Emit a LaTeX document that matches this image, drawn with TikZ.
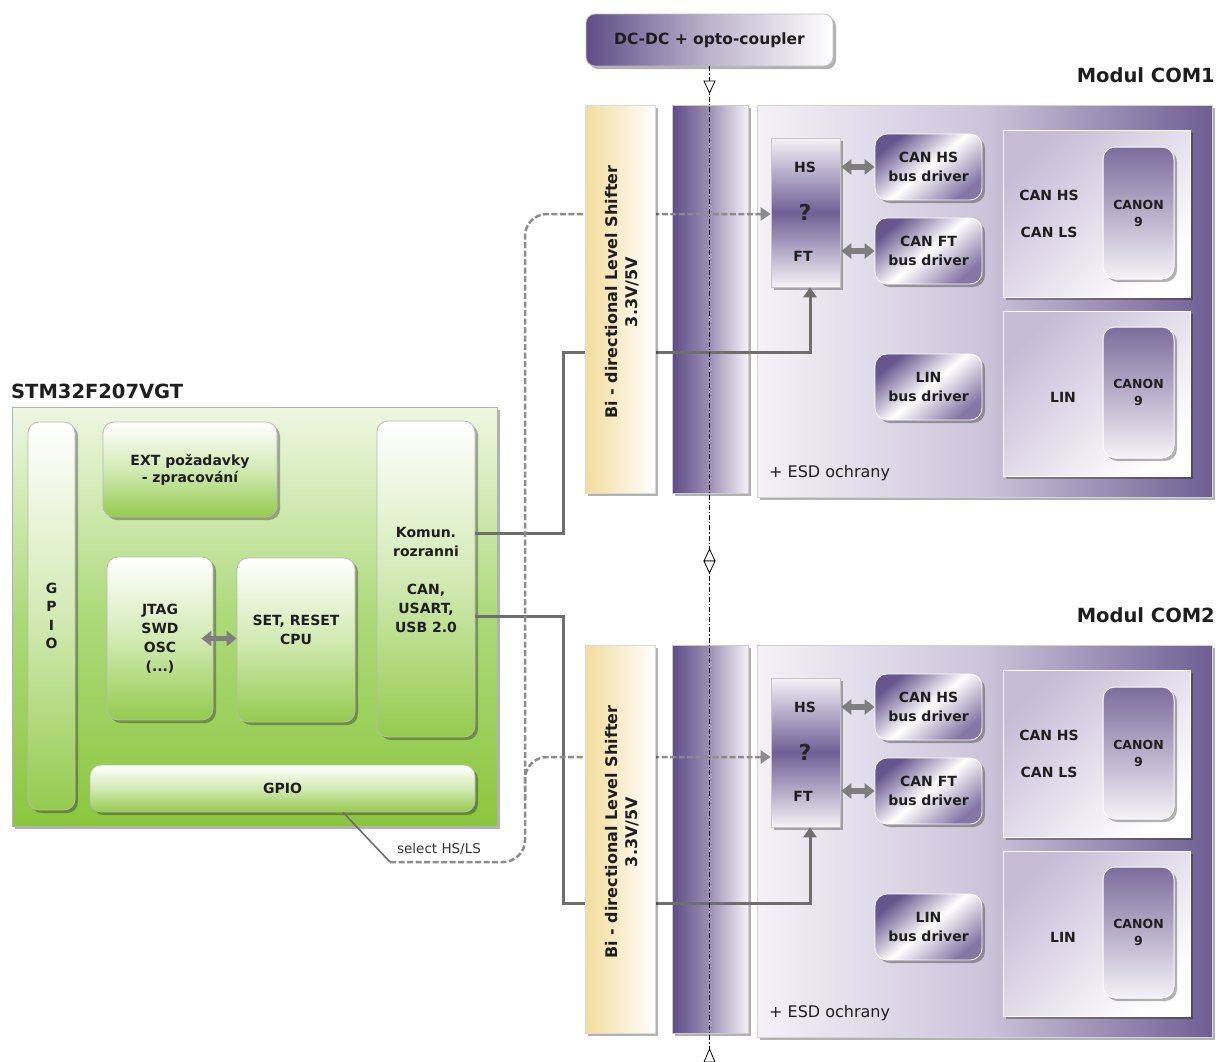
\documentclass[tikz,border=0pt]{standalone}
\usepackage{fontspec}
\setmainfont{DejaVu Sans}
\usetikzlibrary{arrows.meta,shadows,calc}
\definecolor{pdark}{HTML}{5E4D87}
\definecolor{pmid}{HTML}{8576A4}
\definecolor{plight}{HTML}{F4F2F7}
\definecolor{pmodmid}{HTML}{CCC4DA}
\definecolor{pcanon}{HTML}{7C6C9C}
\definecolor{pblk}{HTML}{C6BCD6}
\definecolor{pmux}{HTML}{6F5F95}
\definecolor{gdark}{HTML}{8CC63F}
\definecolor{gmid}{HTML}{ADD97A}
\definecolor{glight}{HTML}{EEF7E2}
\definecolor{ginmid}{HTML}{D2EAB4}
\definecolor{ylw}{HTML}{F4DC9C}
\definecolor{conngray}{HTML}{6E6E6E}
\definecolor{arrgray}{HTML}{7E7E7E}
\definecolor{dashgray}{HTML}{8C8C8C}
\definecolor{txtc}{HTML}{1E1E1E}
\newcommand\fBig{\fontsize{19.5}{22}\selectfont\bfseries}
\newcommand\fMid{\fontsize{14}{19}\selectfont\bfseries}
\newcommand\fExt{\fontsize{14}{17}\selectfont\bfseries}
\newcommand\fGp{\fontsize{14}{18.5}\selectfont\bfseries}
\newcommand\fEdc{\fontsize{15.5}{18}\selectfont\bfseries}
\newcommand\fCanon{\fontsize{12.5}{17}\selectfont\bfseries}
\newcommand\fShift{\fontsize{16}{20.5}\selectfont\bfseries}
\newcommand\fQ{\fontsize{22}{24}\selectfont\bfseries}
\newcommand\fSel{\fontsize{13.5}{16}\selectfont}
\newcommand\fEsd{\fontsize{16}{18}\selectfont}
\newcommand\placebox[7]{%
  \node[#2, minimum width={(#5)-(#3)}, minimum height={(#6)-(#4)}, inner sep=0pt] (#1) at ({((#3)+(#5))/2},{((#4)+(#6))/2}) {#7};}
\tikzset{
  shd/.style={drop shadow={shadow xshift=3pt,shadow yshift=-3pt,opacity=.3,fill=black}},
  txt/.style={text=txtc, align=center, inner sep=0pt},
  gouter/.style={rectangle, draw=gray!60, line width=.8pt, top color=glight, bottom color=gdark, middle color=gmid, shd},
  gbox/.style={rectangle, rounded corners=11pt, draw=gray!55, line width=.8pt, top color=white, bottom color=gdark!92!white, middle color=ginmid, shd, txt},
  dcdcbox/.style={rectangle, rounded corners=9pt, draw=gray!50, line width=.8pt, left color=pdark, right color=white, middle color=pmid!55!white, shd, txt},
  modbox/.style={rectangle, draw=gray!35, line width=.6pt, left color=plight, right color=pdark!90!white, middle color=pmodmid, shd},
  pbar/.style={rectangle, draw=gray!40, line width=.6pt, left color=pdark, right color=plight, middle color=pmid!80!white, shd},
  ybar/.style={rectangle, draw=gray!30, line width=.6pt, left color=ylw, right color=white, shd},
  muxbox/.style={rectangle, draw=gray!45, line width=.6pt, top color=plight, bottom color=plight, middle color=pmux, shd},
  drv/.style={rectangle, rounded corners=12pt, draw=white, line width=.8pt, top color=pdark!95!white, bottom color=pmid, middle color=white, shading angle=40, shd, txt},
  blk/.style={rectangle, draw=white, line width=1pt, top color=pblk, bottom color=white, shading angle=45, shd},
  canon/.style={rectangle, rounded corners=12pt, draw=white, line width=1pt, top color=pcanon, bottom color=plight, shd, txt},
  conn/.style={draw=conngray, line width=3pt},
  dbl/.style={draw=arrgray, line width=5.5pt, {Triangle[length=10pt,width=15pt]}-{Triangle[length=10pt,width=15pt]}},
  dsh/.style={draw=dashgray, line width=2.5pt, dash pattern=on 6pt off 2.5pt, rounded corners=22pt},
  ddot/.style={draw=black, line width=1.1pt, dash pattern=on 5pt off 2pt on 1.2pt off 2pt},
  mk/.style={draw=black, fill=white, line width=.8pt, line join=miter},
}
\begin{document}
\begin{tikzpicture}[x=1pt,y=-1pt]
\useasboundingbox (0,0) rectangle (1218,1061);
\fill[white] (0,0) rectangle (1218,1061);

% DC-DC
\placebox{dcdc}{dcdcbox,font=\fEdc}{586}{14}{833}{66}{DC-DC + opto-coupler}

% STM block
\node[txt, anchor=west, font=\fBig] (stmtitle) at (11,391) {STM32F207VGT};
\placebox{stm}{gouter}{12}{407}{497}{826}{}
\placebox{gpiov}{gbox,font=\fGp}{28}{422}{75}{810}{G\\P\\I\\O}
\placebox{ext}{gbox,font=\fExt}{103}{422}{277}{517}{EXT požadavky\\- zpracování}
\placebox{jtag}{gbox,font=\fMid}{107}{557}{213}{720}{JTAG\\SWD\\OSC\\(...)}
\placebox{setr}{gbox}{237}{558}{355}{722}{}
\node[txt, font=\fMid] (setrt) at (296,630) {SET, RESET\\CPU};
\placebox{komun}{gbox}{377}{421}{475}{737}{}
\node[txt, font=\fMid] (komunt) at (426,580) {Komun.\\rozranni\\[19pt]CAN,\\USART,\\USB 2.0};
\placebox{gpiob}{gbox,font=\fMid}{90}{765}{475}{812}{GPIO}
\draw[dbl] (jtag.east) ++(-12,0) -- (jtag.east -| setr.west);

% modules
\foreach \o/\s in {0/a,540/b}{
  \placebox{mod\s}{modbox}{757}{\o+105}{1212}{\o+497}{}
  \placebox{pbar\s}{pbar}{672}{\o+105}{748}{\o+493}{}
  \placebox{mux\s}{muxbox}{771}{\o+138}{840}{\o+287}{}
  \node[txt, font=\fMid] (hs\s) at (805,\o+167) {HS};
  \node[txt, font=\fQ, text=black!85] (q\s) at (805,\o+212) {?};
  \node[txt, font=\fMid] (ft\s) at (803,\o+256) {FT};
  \placebox{drvhs\s}{drv,font=\fMid}{875}{\o+134}{982}{\o+200}{CAN HS\\bus driver}
  \placebox{drvft\s}{drv,font=\fMid}{875}{\o+218}{982}{\o+284}{CAN FT\\bus driver}
  \placebox{drvlin\s}{drv,font=\fMid}{875}{\o+354}{982}{\o+420}{LIN\\bus driver}
  \placebox{canblk\s}{blk}{1003}{\o+130}{1190}{\o+297}{}
  \placebox{canona\s}{canon,font=\fCanon}{1103}{\o+147}{1174}{\o+279}{CANON\\9}
  \node[txt, font=\fMid] (canhs\s) at (1049,\o+195) {CAN HS};
  \node[txt, font=\fMid] (canls\s) at (1049,\o+232) {CAN LS};
  \placebox{linblk\s}{blk}{1003}{\o+311}{1190}{\o+476}{}
  \placebox{canonb\s}{canon,font=\fCanon}{1103}{\o+327}{1174}{\o+458}{CANON\\9}
  \node[txt, font=\fMid] (lin\s) at (1063,\o+397) {LIN};
  \node[txt, anchor=west, font=\fEsd] (esd\s) at (769,\o+473) {+ ESD ochrany};
  \draw[dbl] (hs\s -| mux\s.east) ++(1,0) -- (hs\s -| drvhs\s.west);
  \draw[dbl] (drvft\s.west -| mux\s.east) ++(1,0) -- (drvft\s.west);
}

% solid connectors
\draw[conn, -{Triangle[length=10pt,width=13pt]}] (komun.east |- 0,533) -- (563,533) -- (563,352) -- (810,352) -- (810,0 |- muxa.south);
\draw[conn, -{Triangle[length=10pt,width=13pt]}] (komun.east |- 0,616) -- (563,616) -- (563,903) -- (810,903) -- (810,0 |- muxb.south);

% select HS/LS
\coordinate (selc) at (390,862);
\draw[draw=conngray, line width=1.6pt] ($(gpiob.south west)!.657!(gpiob.south east)$) -- (selc);
\draw[dsh, -{Triangle[length=10pt,width=13pt]}] (selc) -- (525,862) -- (525,214) -- (muxa.west |- 0,214);
\draw[dsh, -{Triangle[length=10pt,width=13pt]}] (525,800) -- (525,757) -- (muxb.west |- 0,757);
\node[txt, font=\fSel, text=black!80] (sel) at (439,849) {select HS/LS};

% level shifters
\foreach \o/\s in {0/a,540/b}{
  \placebox{ybar\s}{ybar}{585}{\o+105}{655}{\o+493}{}
  \node[txt, font=\fShift, rotate=90] (lst\s) at (622,\o+292) {Bi - directional Level Shifter\\3.3V/5V};
}

% isolation line
\coordinate (isob) at (709.5,1061);
\draw[ddot] (dcdc.south) -- (isob);
\draw[mk] (704,81) -- (715,81) -- (709.5,93) -- cycle;
\draw[mk] (704,561) -- (715,561) -- (709.5,549) -- cycle;
\draw[mk] (704,561) -- (715,561) -- (709.5,573) -- cycle;
\draw[mk] (704,1062) -- (715,1062) -- (709.5,1049) -- cycle;

% module titles
\node[txt, anchor=east, font=\fBig] (com1) at (1215,75) {Modul COM1};
\node[txt, anchor=east, font=\fBig] (com2) at (1215,615) {Modul COM2};
\end{tikzpicture}
\end{document}
